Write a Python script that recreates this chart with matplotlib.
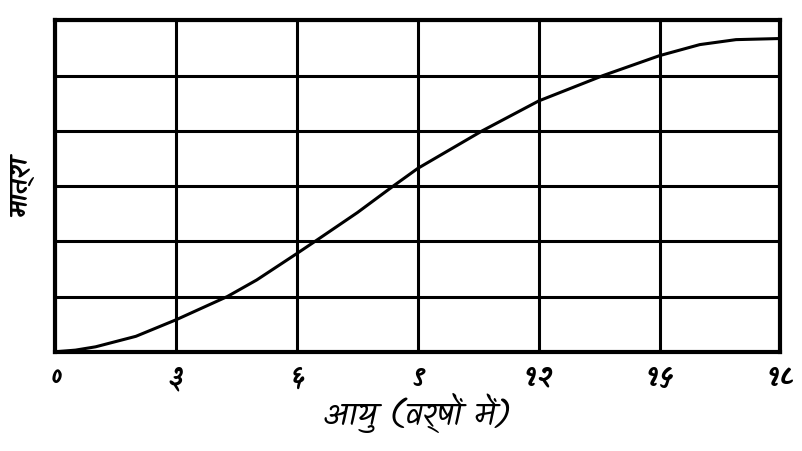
import matplotlib
matplotlib.use("Agg")
import matplotlib.pyplot as plt

# आयु (वर्ष) और मात्रा, चित्र से पढ़े गए मान
age = [0, 0.5, 1, 2, 3, 4.27, 5, 6, 6.45, 7.5, 8.39, 9, 10.6, 12, 13.6, 15, 16, 16.9, 18]
amount = [0, 0.03, 0.09, 0.28, 0.58, 1.0, 1.3, 1.78, 2.0, 2.52, 3.0, 3.32, 4.0, 4.54, 5.0, 5.36, 5.56, 5.65, 5.67]

x_ticks = [0, 3, 6, 9, 12, 15, 18]
x_tick_labels = ["०", "३", "६", "९", "१२", "१५", "१८"]
y_grid = [0, 1, 2, 3, 4, 5, 6]

FONT = ["Kalam", "DejaVu Sans"]

fig = plt.figure(figsize=(8.02, 4.51), dpi=100)
ax = fig.add_axes([0.069, 0.22, 0.904, 0.735])

ax.plot(age, amount, color="black", lw=2.2, solid_capstyle="round", solid_joinstyle="round")

ax.set_xlim(0, 18)
ax.set_ylim(0, 6)
ax.set_xticks(x_ticks)
ax.set_xticklabels(x_tick_labels, fontfamily=FONT, fontsize=20, fontweight="bold")
ax.set_yticks(y_grid)
ax.set_yticklabels([])
ax.tick_params(length=0, pad=8)
ax.grid(True, color="black", lw=2.2)

for s in ax.spines.values():
    s.set_linewidth(3)
    s.set_color("black")

ax.set_xlabel("आयु (वर्षों में)", fontfamily=FONT, fontsize=23, labelpad=0)
fig.text(0.026, 0.585, "मात्रा", fontfamily=FONT, fontsize=18, fontweight="bold",
         rotation=90, ha="center", va="center")

fig.savefig("out.png")
